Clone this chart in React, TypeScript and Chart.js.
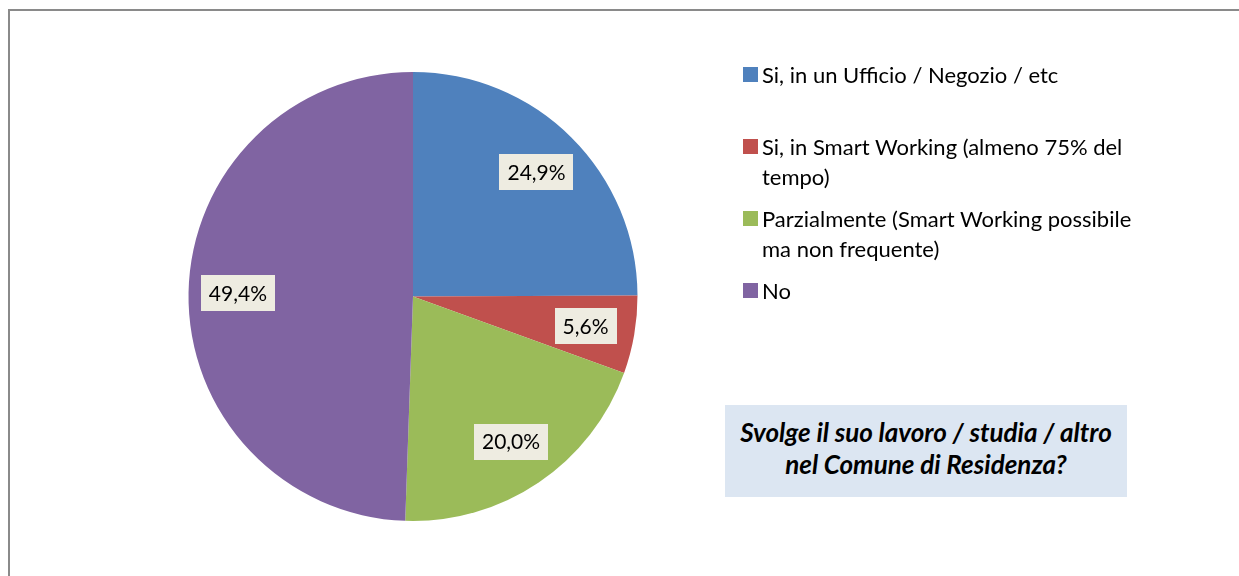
import React, { useEffect, useRef } from "react";
import { Chart, registerables } from "chart.js";

Chart.register(...registerables);

const CATEGORIES: string[][] = [
  ["Si, in un Ufficio / Negozio / etc"],
  ["Si, in Smart Working (almeno 75% del", "tempo)"],
  ["Parzialmente (Smart Working possibile", "ma non frequente)"],
  ["No"],
];
const VALUES: number[] = [24.9, 5.6, 20.0, 49.4];
const COLORS: string[] = ["#4F81BD", "#C0504D", "#9BBB59", "#8064A2"];
const TITLE_LINES: string[] = [
  "Svolge il suo lavoro / studia / altro",
  "nel Comune di Residenza?",
];

const FONT = "Lato, 'Open Sans', sans-serif";

const labelPlugin = {
  id: "pieLabels",
  afterDatasetsDraw(chart: any) {
    const ctx = chart.ctx as CanvasRenderingContext2D;
    const meta = chart.getDatasetMeta(0);
    const data = chart.data.datasets[0].data as number[];
    ctx.save();
    ctx.font = `21px ${FONT}`;
    ctx.textAlign = "center";
    ctx.textBaseline = "middle";
    meta.data.forEach((arc: any, i: number) => {
      const { x, y, startAngle, endAngle, outerRadius } = arc.getProps(
        ["x", "y", "startAngle", "endAngle", "outerRadius"],
        true
      );
      const mid = (startAngle + endAngle) / 2;
      const d = outerRadius * 0.78;
      const px = x + Math.cos(mid) * d;
      const py = y + Math.sin(mid) * d;
      const text = data[i].toFixed(1).replace(".", ",") + "%";
      const w = ctx.measureText(text).width + 16;
      const h = 36;
      ctx.fillStyle = "#EEECE1";
      ctx.fillRect(Math.round(px - w / 2), Math.round(py - h / 2), Math.round(w), h);
      ctx.fillStyle = "#000000";
      ctx.fillText(text, px, py + 1);
    });
    ctx.restore();
  },
};

export default function App() {
  const canvasRef = useRef<HTMLCanvasElement | null>(null);

  useEffect(() => {
    document.body.style.overflow = "hidden";
    const canvas = canvasRef.current;
    if (!canvas) return;
    const chart = new Chart(canvas, {
      type: "pie",
      data: {
        labels: CATEGORIES,
        datasets: [
          {
            data: VALUES,
            backgroundColor: COLORS,
            borderWidth: 0,
            hoverOffset: 0,
            offset: 0,
          },
        ],
      },
      options: {
        responsive: false,
        animation: false,
        rotation: 0,
        layout: {
          padding: { left: 188.5, top: 72, right: 601.5, bottom: 55 },
        },
        plugins: {
          legend: { display: false },
          tooltip: { enabled: false },
          title: { display: false },
        },
      },
      plugins: [labelPlugin],
    });
    return () => chart.destroy();
  }, []);

  return (
    <div>
      <div
        style={{
          position: "absolute",
          left: 8,
          top: 9,
          width: 1231,
          height: 567,
          borderLeft: "2px solid #8a8a8a",
          borderTop: "2px solid #8a8a8a",
          boxSizing: "border-box",
          background: "#ffffff",
        }}
      />
      <canvas
        ref={canvasRef}
        width={1239}
        height={576}
        style={{ position: "absolute", left: 0, top: 0, width: 1239, height: 576 }}
      />
      {CATEGORIES.map((lines, i) => (
        <div
          key={i}
          style={{
            position: "absolute",
            left: 743,
            top: 60 + i * 72,
            display: "flex",
            alignItems: "flex-start",
            fontFamily: FONT,
            fontSize: 22,
            lineHeight: "30px",
            color: "#000",
            whiteSpace: "nowrap",
          }}
        >
          <div
            style={{
              width: 15,
              height: 15,
              marginTop: 7,
              marginRight: 4,
              background: COLORS[i],
              flex: "none",
            }}
          />
          <div>
            {lines.map((l, j) => (
              <div key={j}>{l}</div>
            ))}
          </div>
        </div>
      ))}
      <div
        style={{
          position: "absolute",
          left: 725,
          top: 405,
          width: 402,
          height: 92,
          background: "#DCE6F2",
          display: "flex",
          flexDirection: "column",
          justifyContent: "center",
          alignItems: "center",
          fontFamily: FONT,
          fontWeight: "bold",
          fontStyle: "italic",
          fontSize: 26,
          lineHeight: "32px",
          color: "#000",
          whiteSpace: "nowrap",
          paddingBottom: 6,
          boxSizing: "border-box",
        }}
      >
        {TITLE_LINES.map((l, j) => (
          <div key={j}>{l}</div>
        ))}
      </div>
    </div>
  );
}
